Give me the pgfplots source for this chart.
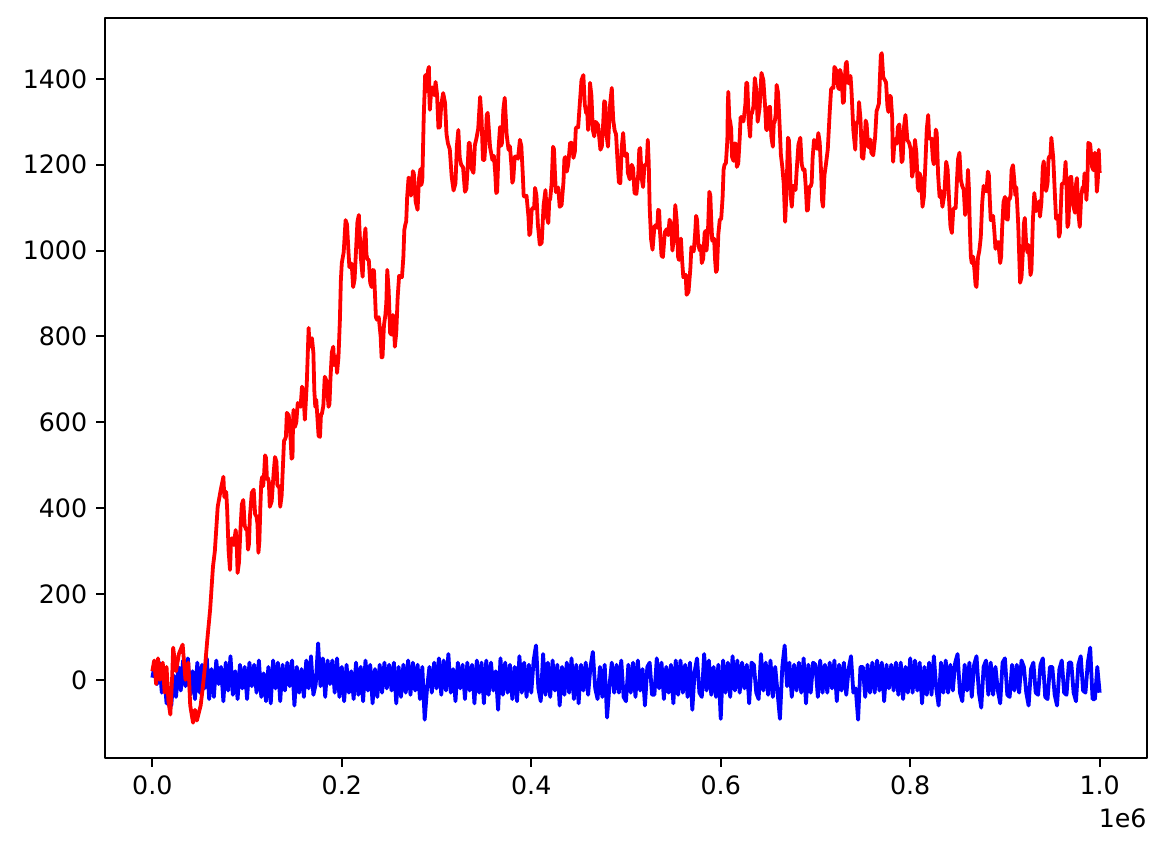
\documentclass[border=0pt]{standalone}
\usepackage{fontspec}
\setmainfont{DejaVu Sans}
\usepackage{pgfplots}
\pgfplotsset{compat=1.18}
\begin{document}
\begin{tikzpicture}
\begin{axis}[
  scale only axis, width=412pt, height=292.5pt,
  xmin=-0.05, xmax=1.05, ymin=-181.7, ymax=1542,
  xtick={0,0.2,0.4,0.6,0.8,1.0},
  xticklabels={0.0,0.2,0.4,0.6,0.8,1.0},
  ytick={0,200,400,600,800,1000,1200,1400},
  tick pos=left, tick align=outside,
  major tick length=3.5pt,
  tick style={black, line width=0.8pt},
  axis line style={line width=0.8pt},
  ticklabel style={font=\fontsize{10}{12}\selectfont},
  /pgf/number format/assume math mode=true,
  /pgf/number format/1000 sep={},
  scaled y ticks=false,
  line join=round,
]
\addplot[blue, line width=1.5pt, no marks] coordinates {
(0,5)(0.0025,35)(0.005,-10)(0.0075,40)(0.01,-30)(0.0125,15)(0.015,-55)(0.0175,-20)(0.02,-60)(0.0225,10)(0.025,-40)(0.0275,30)(0.03,-25)(0.0325,45)(0.035,-15)(0.0375,50)(0.04,-35)(0.0425,20)(0.045,-45)(0.0475,40)
(0.05,-30)(0.0525,35)(0.055,-20)(0.0575,50)(0.06,-45)(0.0625,25)(0.065,-40)(0.0675,45)(0.07,-10)(0.0725,30)(0.075,-50)(0.0775,40)(0.08,-25)(0.0825,55)(0.085,-35)(0.0875,20)(0.09,-45)(0.0925,35)(0.095,-20)(0.0975,30)
(0.1,-45)(0.1025,40)(0.105,-15)(0.1075,35)(0.11,-30)(0.1125,45)(0.115,-40)(0.1175,15)(0.12,-50)(0.1225,30)(0.125,-55)(0.1275,45)(0.13,-20)(0.1325,40)(0.135,-50)(0.1375,35)(0.14,-25)(0.1425,40)(0.145,-15)(0.1475,45)
(0.15,-60)(0.1525,30)(0.155,-30)(0.1575,25)(0.16,-40)(0.1625,45)(0.165,-20)(0.1675,55)(0.17,-35)(0.1725,-10)(0.175,85)(0.1775,-15)(0.18,50)(0.1825,-40)(0.185,45)(0.1875,-10)(0.19,45)(0.1925,-30)(0.195,50)(0.1975,-40)
(0.2,30)(0.2025,-50)(0.205,35)(0.2075,-30)(0.21,20)(0.2125,-45)(0.215,40)(0.2175,-35)(0.22,30)(0.2225,-50)(0.225,45)(0.2275,-25)(0.23,35)(0.2325,-55)(0.235,25)(0.2375,-40)(0.24,35)(0.2425,-30)(0.245,40)(0.2475,-20)
(0.25,35)(0.2525,-25)(0.255,40)(0.2575,-55)(0.26,30)(0.2625,-40)(0.265,35)(0.2675,-30)(0.27,45)(0.2725,-35)(0.275,40)(0.2775,-25)(0.28,35)(0.2825,-45)(0.285,30)(0.2875,-93)(0.29,-20)(0.2925,30)(0.295,-30)(0.2975,40)
(0.3,-20)(0.3025,50)(0.305,-35)(0.3075,45)(0.31,-25)(0.3125,60)(0.315,-30)(0.3175,25)(0.32,-50)(0.3225,40)(0.325,-20)(0.3275,35)(0.33,-45)(0.3325,40)(0.335,-25)(0.3375,35)(0.34,-55)(0.3425,45)(0.345,-30)(0.3475,40)
(0.35,-55)(0.3525,45)(0.355,-35)(0.3575,40)(0.36,-25)(0.3625,20)(0.365,-70)(0.3675,50)(0.37,-35)(0.3725,40)(0.375,-30)(0.3775,35)(0.38,-45)(0.3825,30)(0.385,-50)(0.3875,55)(0.39,-30)(0.3925,40)(0.395,-40)(0.3975,35)
(0.4,-30)(0.4025,45)(0.405,80)(0.4075,-20)(0.41,-50)(0.4125,60)(0.415,-35)(0.4175,40)(0.42,-40)(0.4225,45)(0.425,-25)(0.4275,35)(0.43,-60)(0.4325,30)(0.435,-35)(0.4375,40)(0.44,-30)(0.4425,50)(0.445,-45)(0.4475,35)
(0.45,-55)(0.4525,35)(0.455,-25)(0.4575,40)(0.46,-35)(0.4625,30)(0.465,65)(0.4675,-20)(0.47,-45)(0.4725,30)(0.475,-40)(0.4775,35)(0.48,-88)(0.4825,-15)(0.485,40)(0.4875,-30)(0.49,35)(0.4925,-30)(0.495,45)(0.4975,-40)
(0.5,-50)(0.5025,35)(0.505,-30)(0.5075,40)(0.51,-40)(0.5125,45)(0.515,-25)(0.5175,25)(0.52,-60)(0.5225,30)(0.525,40)(0.5275,-35)(0.53,-35)(0.5325,50)(0.535,-20)(0.5375,40)(0.54,-45)(0.5425,30)(0.545,-30)(0.5475,35)
(0.55,-55)(0.5525,45)(0.555,-35)(0.5575,45)(0.56,-30)(0.5625,35)(0.565,-40)(0.5675,40)(0.57,-70)(0.5725,20)(0.575,50)(0.5775,-30)(0.58,-40)(0.5825,60)(0.585,-25)(0.5875,45)(0.59,-35)(0.5925,30)(0.595,-40)(0.5975,35)
(0.6,-91)(0.6025,45)(0.605,-30)(0.6075,40)(0.61,-40)(0.6125,55)(0.615,-25)(0.6175,45)(0.62,-30)(0.6225,40)(0.625,-20)(0.6275,35)(0.63,-55)(0.6325,40)(0.635,35)(0.6375,-30)(0.64,-45)(0.6425,60)(0.645,-25)(0.6475,40)
(0.65,-35)(0.6525,45)(0.655,-40)(0.6575,30)(0.66,-30)(0.6625,-91)(0.665,30)(0.6675,80)(0.67,-15)(0.6725,40)(0.675,-40)(0.6775,35)(0.68,-25)(0.6825,40)(0.685,-30)(0.6875,50)(0.69,-55)(0.6925,35)(0.695,-30)(0.6975,40)
(0.7,35)(0.7025,-40)(0.705,45)(0.7075,-30)(0.71,35)(0.7125,-30)(0.715,40)(0.7175,-20)(0.72,45)(0.7225,-50)(0.725,35)(0.7275,-25)(0.73,40)(0.7325,-35)(0.735,25)(0.7375,55)(0.74,-30)(0.7425,-20)(0.745,-93)(0.7475,30)
(0.75,30)(0.7525,-40)(0.755,35)(0.7575,-30)(0.76,40)(0.7625,-30)(0.765,45)(0.7675,-25)(0.77,40)(0.7725,-50)(0.775,35)(0.7775,-20)(0.78,35)(0.7825,-25)(0.785,40)(0.7875,-35)(0.79,40)(0.7925,-45)(0.795,30)(0.7975,-30)
(0.8,50)(0.8025,-30)(0.805,45)(0.8075,-25)(0.81,40)(0.8125,-55)(0.815,30)(0.8175,-35)(0.82,40)(0.8225,-35)(0.825,55)(0.8275,-20)(0.83,-60)(0.8325,40)(0.835,-30)(0.8375,45)(0.84,-30)(0.8425,35)(0.845,-25)(0.8475,40)
(0.85,60)(0.8525,-30)(0.855,-50)(0.8575,35)(0.86,-25)(0.8625,40)(0.865,-40)(0.8675,35)(0.87,55)(0.8725,-30)(0.875,-65)(0.8775,30)(0.88,45)(0.8825,-35)(0.885,40)(0.8875,-35)(0.89,30)(0.8925,-25)(0.895,-55)(0.8975,40)
(0.9,50)(0.9025,-35)(0.905,-40)(0.9075,35)(0.91,-25)(0.9125,35)(0.915,-30)(0.9175,45)(0.92,30)(0.9225,-30)(0.925,-60)(0.9275,25)(0.93,40)(0.9325,-30)(0.935,-35)(0.9375,35)(0.94,50)(0.9425,-40)(0.945,-45)(0.9475,30)
(0.95,30)(0.9525,-35)(0.955,-60)(0.9575,25)(0.96,45)(0.9625,-30)(0.965,-35)(0.9675,40)(0.97,40)(0.9725,-30)(0.975,-50)(0.9775,35)(0.98,55)(0.9825,-25)(0.985,-30)(0.9875,40)(0.99,75)(0.9925,-45)(0.995,-45)(0.9975,30)
(1,-30)
};
\addplot[red, line width=1.5pt, no marks] coordinates {
(0.000,20)(0.002,45)(0.004,-10)(0.006,50)(0.008,0)(0.011,40)(0.013,-30)(0.015,30)(0.017,-50)(0.019,-81)(0.021,10)(0.022,75)(0.025,20)(0.028,60)(0.032,82)(0.035,0)(0.038,40)(0.040,-60)(0.043,-100)(0.045,-70)(0.047,-95)(0.051,-60)(0.053,-23)(0.056,40)(0.058,93)(0.061,163)(0.064,263)(0.066,300)(0.069,403)(0.072,440)
(0.075,473)(0.076,426)(0.077,430)(0.078,438)(0.079,396)(0.0805,301)(0.082,256)(0.083,318)(0.084,330)(0.086,314)(0.088,349)(0.089,324)(0.090,249)(0.0915,274)(0.093,350)(0.0945,409)(0.096,419)(0.0975,359)(0.099,350)(0.100,351)(0.101,303)(0.102,316)(0.103,380)(0.105,436)(0.107,443)(0.1085,386)(0.110,380)(0.111,363)(0.112,296)(0.113,323)(0.114,400)(0.115,461)(0.116,473)(0.117,451)(0.118,480)(0.119,523)(0.120,517)(0.121,468)(0.122,470)(0.123,461)(0.124,403)(0.126,416)(0.128,480)(0.1295,519)(0.131,508)(0.132,454)(0.133,450)(0.134,451)(0.135,403)(0.1365,429)(0.138,505)(0.139,557)(0.140,560)(0.141,566)(0.142,622)(0.144,616)(0.146,560)(0.147,515)(0.148,519)(0.1485,599)(0.149,629)(0.1505,589)(0.152,600)(0.1535,645)(0.155,640)(0.1565,636)(0.158,683)(0.1595,669)(0.161,606)(0.163,688)(0.165,820)(0.166,775)(0.167,780)(0.1685,796)(0.170,762)(0.171,674)(0.172,636)(0.173,653)(0.174,620)(0.1755,568)(0.177,566)(0.178,618)(0.179,620)(0.1805,638)(0.182,706)(0.184,696)(0.186,636)(0.187,643)(0.188,700)(0.1895,763)(0.191,776)(0.192,733)(0.193,740)(0.194,753)(0.195,715)(0.1965,752)(0.198,839)(0.199,930)
(0.200,971)(0.202,996)(0.204,1071)(0.2055,1061)(0.207,1000)(0.208,961)(0.209,971)(0.2105,968)(0.212,915)(0.2135,933)(0.215,1000)(0.2165,1067)(0.218,1083)(0.220,986)(0.222,939)(0.2235,1021)(0.225,1052)(0.226,991)(0.227,980)(0.2285,978)(0.230,925)(0.2315,915)(0.233,955)(0.234,953)(0.235,900)(0.236,845)(0.237,839)(0.239,845)(0.241,800)(0.242,751)(0.243,752)(0.2445,826)(0.246,850)(0.247,878)(0.248,955)(0.2495,907)(0.251,808)(0.2525,804)(0.254,850)(0.255,838)(0.256,776)(0.2575,809)(0.259,892)(0.2605,941)(0.262,940)(0.2635,938)(0.265,985)(0.266,1048)(0.267,1060)(0.268,1068)(0.269,1125)(0.2705,1170)(0.272,1165)(0.273,1128)(0.274,1140)(0.275,1185)(0.276,1180)(0.278,1113)(0.280,1095)(0.2815,1168)(0.283,1190)(0.284,1153)(0.285,1165)(0.2865,1312)(0.288,1409)(0.289,1370)(0.290,1380)(0.291,1420)(0.292,1428)(0.2925,1353)(0.293,1328)(0.2945,1379)(0.296,1380)(0.2975,1362)(0.299,1393)
(0.3005,1365)(0.302,1286)(0.3035,1288)(0.305,1340)(0.307,1367)(0.309,1344)(0.3105,1272)(0.312,1250)(0.314,1236)(0.316,1172)(0.318,1140)(0.320,1157)(0.3215,1244)(0.323,1281)(0.3245,1216)(0.326,1200)(0.328,1194)(0.330,1137)(0.3315,1144)(0.333,1200)(0.334,1251)(0.335,1251)(0.337,1191)(0.339,1181)(0.3405,1246)(0.342,1260)(0.344,1284)(0.346,1358)(0.3475,1310)(0.349,1211)(0.3505,1211)(0.352,1260)(0.353,1316)(0.354,1321)(0.3565,1241)(0.359,1211)(0.3605,1221)(0.362,1180)(0.363,1134)(0.364,1137)(0.3655,1238)(0.367,1288)(0.368,1244)(0.369,1250)(0.3705,1328)(0.372,1356)(0.374,1271)(0.376,1235)(0.3775,1243)(0.379,1200)(0.380,1158)(0.381,1165)(0.3825,1218)(0.384,1220)(0.386,1214)(0.388,1258)(0.3895,1244)(0.391,1180)(0.392,1128)(0.393,1125)(0.395,1128)(0.397,1080)(0.398,1036)(0.399,1041)
(0.4005,1096)(0.402,1100)(0.403,1098)(0.404,1146)(0.4055,1128)(0.407,1060)(0.409,1014)(0.411,1018)(0.413,1105)(0.415,1141)(0.4165,1078)(0.418,1064)(0.419,1117)(0.420,1120)(0.4215,1156)(0.423,1242)(0.424,1236)(0.425,1180)(0.426,1136)(0.427,1141)(0.4285,1147)(0.430,1102)(0.432,1106)(0.434,1160)(0.435,1214)(0.436,1218)(0.4375,1184)(0.439,1200)(0.441,1251)(0.443,1251)(0.4445,1216)(0.446,1230)(0.447,1284)(0.448,1288)(0.4495,1287)(0.451,1335)(0.453,1397)(0.455,1409)(0.4565,1340)(0.458,1320)(0.459,1326)(0.460,1281)(0.461,1311)(0.462,1391)(0.4635,1361)(0.465,1281)(0.4665,1266)(0.468,1300)(0.4705,1293)(0.473,1235)(0.4745,1243)(0.476,1300)(0.477,1348)(0.478,1346)(0.4795,1269)(0.481,1242)(0.483,1336)(0.485,1379)(0.4865,1305)(0.488,1280)(0.4895,1271)(0.491,1211)(0.4925,1159)(0.494,1157)(0.4955,1241)(0.497,1274)(0.4985,1222)
(0.500,1220)(0.501,1226)(0.502,1181)(0.504,1166)(0.506,1200)(0.5075,1192)(0.509,1134)(0.511,1132)(0.513,1180)(0.514,1235)(0.515,1239)(0.5165,1169)(0.518,1148)(0.5195,1199)(0.521,1200)(0.522,1204)(0.523,1258)(0.524,1204)(0.525,1100)(0.5265,1026)(0.528,1002)(0.530,1056)(0.532,1060)(0.533,1053)(0.534,1095)(0.535,1093)(0.536,1040)(0.5375,988)(0.539,985)(0.541,1043)(0.543,1050)(0.5445,1036)(0.546,1072)(0.5475,1061)(0.549,1000)(0.5505,1028)(0.552,1106)(0.5535,1071)(0.555,985)(0.556,978)(0.557,1020)(0.558,1028)(0.559,985)(0.5605,938)(0.562,940)(0.563,944)(0.564,897)(0.566,904)(0.568,960)(0.569,1008)(0.570,1006)(0.5715,998)(0.573,1040)(0.574,1081)(0.575,1072)(0.5765,1011)(0.578,1000)(0.579,1011)(0.580,971)(0.5815,981)(0.583,1041)(0.584,1046)(0.585,1000)(0.5865,1044)(0.588,1137)(0.589,1129)(0.590,1070)(0.591,1023)(0.592,1025)(0.593,1028)(0.594,980)(0.595,950)(0.596,955)(0.5975,1039)(0.599,1072)
(0.6005,1074)(0.602,1125)(0.603,1188)(0.604,1200)(0.6055,1204)(0.607,1258)(0.6075,1339)(0.608,1370)(0.609,1310)(0.610,1300)(0.611,1284)(0.612,1218)(0.6135,1209)(0.615,1250)(0.616,1248)(0.617,1195)(0.6185,1203)(0.620,1260)(0.621,1311)(0.622,1311)(0.624,1301)(0.626,1340)(0.627,1391)(0.628,1391)(0.6295,1303)(0.631,1265)(0.632,1318)(0.633,1320)(0.6345,1336)(0.636,1402)(0.6375,1376)(0.639,1300)(0.641,1332)(0.643,1414)(0.645,1397)(0.647,1330)(0.648,1281)(0.649,1281)(0.6505,1333)(0.652,1335)(0.6535,1264)(0.655,1242)(0.656,1296)(0.657,1300)(0.658,1318)(0.659,1386)(0.6605,1368)(0.662,1300)(0.6635,1223)(0.665,1195)(0.6665,1156)(0.668,1067)(0.6695,1140)(0.671,1263)(0.672,1257)(0.673,1200)(0.674,1126)(0.675,1102)(0.6765,1151)(0.678,1150)(0.679,1141)(0.680,1181)(0.682,1247)(0.684,1263)(0.6855,1201)(0.687,1188)(0.6885,1189)(0.690,1140)(0.691,1093)(0.692,1095)(0.6935,1148)(0.695,1150)(0.696,1158)(0.697,1216)(0.6985,1258)
(0.700,1250)(0.7015,1237)(0.703,1274)(0.7045,1252)(0.706,1180)(0.707,1116)(0.708,1102)(0.7095,1176)(0.711,1200)(0.713,1236)(0.715,1321)(0.7165,1376)(0.718,1380)(0.719,1379)(0.720,1428)(0.722,1420)(0.724,1380)(0.725,1376)(0.726,1421)(0.7275,1408)(0.729,1344)(0.730,1347)(0.731,1400)(0.732,1435)(0.733,1440)(0.7345,1390)(0.736,1390)(0.737,1407)(0.738,1374)(0.740,1280)(0.742,1235)(0.743,1293)(0.744,1300)(0.745,1298)(0.746,1346)(0.7475,1307)(0.749,1218)(0.7505,1214)(0.752,1260)(0.753,1303)(0.754,1295)(0.7555,1243)(0.757,1240)(0.758,1259)(0.759,1228)(0.761,1222)(0.763,1265)(0.7645,1325)(0.766,1335)(0.767,1343)(0.768,1400)(0.769,1455)(0.770,1460)(0.7715,1404)(0.773,1398)(0.7745,1392)(0.776,1335)(0.777,1323)(0.778,1360)(0.7795,1360)(0.781,1309)(0.7815,1233)(0.782,1207)(0.7835,1259)(0.785,1260)(0.786,1249)(0.787,1288)(0.7885,1294)(0.790,1250)(0.791,1206)(0.792,1211)(0.7935,1289)(0.795,1316)(0.797,1258)(0.799,1250)
(0.8005,1236)(0.802,1172)(0.8035,1190)(0.805,1258)(0.8065,1228)(0.808,1148)(0.809,1139)(0.810,1180)(0.8115,1166)(0.813,1102)(0.8145,1126)(0.816,1200)(0.8175,1283)(0.819,1316)(0.820,1263)(0.821,1260)(0.8225,1261)(0.824,1211)(0.825,1201)(0.826,1240)(0.827,1282)(0.828,1274)(0.8295,1175)(0.831,1125)(0.8325,1139)(0.834,1102)(0.836,1130)(0.838,1207)(0.8395,1189)(0.841,1120)(0.8425,1056)(0.844,1041)(0.8455,1096)(0.847,1100)(0.848,1099)(0.849,1148)(0.8505,1213)(0.852,1228)(0.8535,1164)(0.855,1150)(0.8565,1142)(0.858,1083)(0.8595,1111)(0.861,1188)(0.862,1144)(0.863,1050)(0.864,986)(0.865,971)(0.8665,986)(0.868,950)(0.869,920)(0.870,915)(0.8715,983)(0.873,1000)(0.8745,1031)(0.876,1111)(0.8775,1151)(0.879,1141)(0.8805,1138)(0.882,1184)(0.883,1177)(0.884,1120)(0.885,1071)(0.886,1072)(0.8875,1081)(0.889,1040)(0.890,1004)(0.891,1018)(0.893,1020)(0.895,971)(0.896,986)(0.897,1050)(0.8985,1113)
(0.900,1125)(0.9015,1074)(0.903,1072)(0.904,1121)(0.905,1120)(0.906,1129)(0.907,1188)(0.9085,1199)(0.910,1160)(0.911,1129)(0.912,1148)(0.914,1062)(0.916,925)(0.9175,938)(0.919,1000)(0.920,1063)(0.921,1076)(0.9225,1011)(0.924,995)(0.925,1013)(0.926,980)(0.927,943)(0.928,955)(0.9295,1070)(0.931,1134)(0.933,1092)(0.935,1100)(0.936,1115)(0.937,1079)(0.9385,1112)(0.940,1195)(0.941,1208)(0.942,1170)(0.9435,1139)(0.945,1157)(0.946,1214)(0.947,1220)(0.948,1217)(0.949,1263)(0.951,1216)(0.953,1118)(0.954,1074)(0.955,1080)(0.956,1081)(0.957,1032)(0.958,1041)(0.959,1100)(0.960,1154)(0.961,1157)(0.9625,1157)(0.964,1207)(0.965,1156)(0.966,1055)(0.967,1063)(0.968,1120)(0.969,1171)(0.970,1172)(0.972,1105)(0.974,1088)(0.975,1154)(0.976,1169)(0.9775,1087)(0.979,1055)(0.9805,1127)(0.982,1148)(0.983,1139)(0.984,1180)(0.985,1174)(0.986,1118)(0.987,1160)(0.988,1251)(0.990,1248)(0.992,1195)(0.9935,1187)(0.995,1228)(0.996,1208)(0.997,1137)(0.998,1161)(0.999,1235)(1.000,1181)
};
\end{axis}
\node[anchor=north east, inner sep=0pt, font=\fontsize{10}{12}\selectfont] at ([yshift=-20pt]current axis.south east) {1e6};
\path ([shift={(-41.5pt,-38.7pt)}]current axis.south west) rectangle ([shift={(7.5pt,7.1pt)}]current axis.north east);
\end{tikzpicture}
\end{document}
